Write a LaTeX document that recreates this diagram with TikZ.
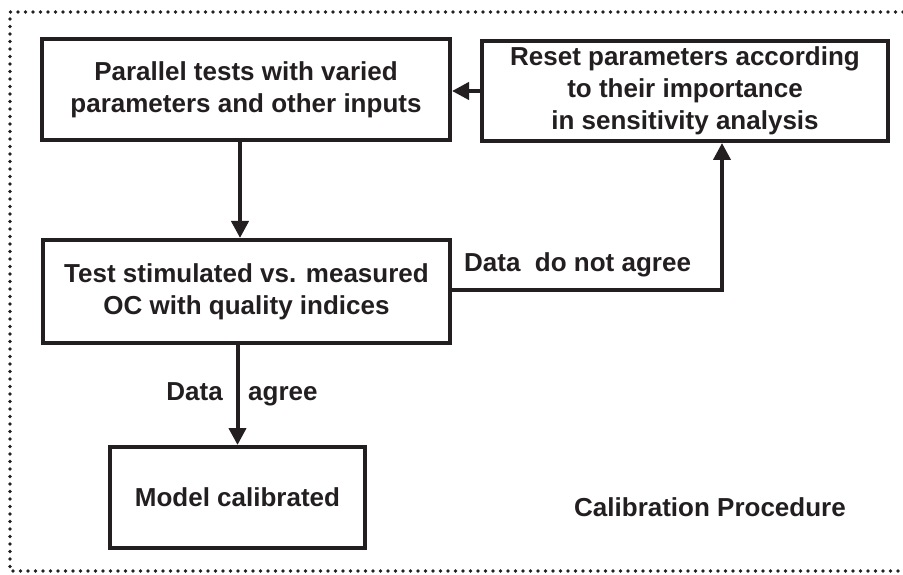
\documentclass[tikz,border=0pt]{standalone}
\usepackage{fontspec}
\setmainfont{Liberation Sans}
\usepackage{color}
\usetikzlibrary{arrows.meta,positioning,calc}
\definecolor{ink}{HTML}{231F20}

\begin{document}
\begin{tikzpicture}[x=1pt,y=-1pt,>={Triangle[length=17pt,width=17pt]},
		box/.style={draw=ink, line width=4pt, align=center, text=ink,
			font=\fontsize{26}{32}\selectfont\bfseries, inner sep=0pt},
		lbl/.style={text=ink, font=\fontsize{26}{32}\selectfont\bfseries, inner sep=0pt},
		link/.style={draw=ink, line width=4pt}]
								\useasboundingbox (0,0) rectangle (903,575);

								\draw[ink, line width=3.8pt, line cap=round, dash pattern=on 0pt off 7.5pt]
									(903,12) -- (10,12) -- (10,571) -- (903,571);

								\node[box, minimum width=408, minimum height=101] (par) at (246,89.5) {Parallel tests with varied\\parameters and other inputs};

								\node[box, minimum width=406, minimum height=100] (reset) at (685,91) {Reset parameters according\\to their importance\\in sensitivity analysis};

								\node[box, minimum width=407, minimum height=103] (test) at (246.5,291.5) {Test stimulated vs. measured\\OC with quality indices};

								\node[box, minimum width=255, minimum height=101] (model) at (237.5,497.5) {Model calibrated};

								\coordinate (turn) at (722,290);

								\draw[link,->]  (reset.west) -- (reset.west -| par.east);
								\draw[link,->]  ([xshift=-6pt]par.south) -- ([xshift=-6pt]par.south |- test.north);
								\draw[link,->]  (test.east |- turn) -- (turn) -- (turn |- reset.south);
								\draw[link,->]  (model.north |- test.south) -- (model.north);

								\node[lbl, anchor=base west] (disagree) at (464,271) {Data\ \ do not agree};
								\node[lbl, anchor=base east] (data) at (223,400) {Data};
								\node[lbl, anchor=base west] (agree) at (248,400) {agree};
								\node[lbl, anchor=base east] (title) at (846,516) {Calibration Procedure};

							\end{tikzpicture}
\end{document}
